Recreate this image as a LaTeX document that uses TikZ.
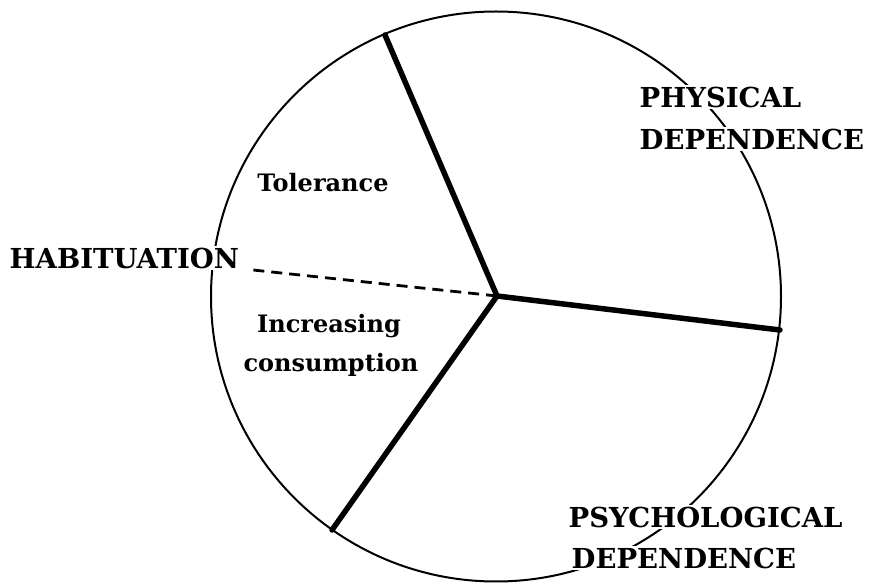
\documentclass[tikz,border=0pt]{standalone}
\usepackage{fontspec}
\setmainfont{DejaVu Serif}
\begin{document}
\begin{tikzpicture}[x=1pt,y=-1pt,
  lab/.style={font=\bfseries\fontsize{27.5}{32}\selectfont, fill=white, inner sep=1.5pt, anchor=west},
  inner/.style={font=\bfseries\fontsize{24}{28}\selectfont, inner sep=0pt},
  spoke/.style={line width=5.5pt, line cap=round},
  rim/.style={line width=2pt},
  habline/.style={line width=2.8pt, dash pattern=on 11pt off 7pt}]
\useasboundingbox (0,0) rectangle (871,585);
\fill[white] (0,0) rectangle (871,585);
\node[draw, circle, rim, minimum size=570pt, inner sep=0pt] (ring) at (496,296.5) {};
\coordinate (c) at (497,296);
\coordinate (top) at (385,35);
\coordinate (right) at (780,330);
\coordinate (bottom) at (332,530);
\coordinate (hab) at (253,270);
\draw[spoke] (c) -- (top);
\draw[spoke] (c) -- (right);
\draw[spoke] (c) -- (bottom);
\draw[habline] (c) -- (hab);
\node[lab] (phys1) at (638,97) {PHYSICAL};
\node[lab] (phys2) at (638,139) {DEPENDENCE};
\node[lab] (habit) at (8,258) {HABITUATION};
\node[lab] (psy1) at (567,517) {PSYCHOLOGICAL};
\node[lab] (psy2) at (570,558) {DEPENDENCE};
\node[inner] (tol) at (323,183) {Tolerance};
\node[inner] (inc1) at (329,326) {Increasing};
\node[inner] (inc2) at (331,365) {consumption};
\end{tikzpicture}
\end{document}
